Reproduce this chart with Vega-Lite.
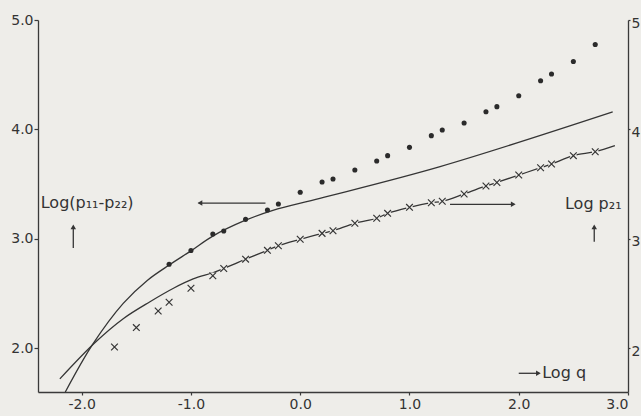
{
  "$schema": "https://vega.github.io/schema/vega-lite/v6.json",
  "width": 590,
  "height": 372,
  "autosize": {"type": "none"},
  "padding": {"left": 38, "top": 20, "right": 13, "bottom": 24},
  "background": "#eeede9",
  "config": {
    "view": {"stroke": null},
    "axis": {
      "grid": false,
      "title": null,
      "domainColor": "#3a3a3a",
      "domainWidth": 1.3,
      "tickColor": "#3a3a3a",
      "tickWidth": 1.2,
      "labelColor": "#333333",
      "labelFont": "DejaVu Sans",
      "labelFontSize": 14
    }
  },
  "datasets": {
    "dots": [
      {"logq": -1.2, "v": 2.767}, {"logq": -1.0, "v": 2.893}, {"logq": -0.8, "v": 3.044},
      {"logq": -0.7, "v": 3.071}, {"logq": -0.5, "v": 3.178}, {"logq": -0.3, "v": 3.263},
      {"logq": -0.2, "v": 3.318}, {"logq": 0.0, "v": 3.425}, {"logq": 0.2, "v": 3.519},
      {"logq": 0.3, "v": 3.547}, {"logq": 0.5, "v": 3.629}, {"logq": 0.7, "v": 3.711},
      {"logq": 0.8, "v": 3.76}, {"logq": 1.0, "v": 3.836}, {"logq": 1.2, "v": 3.943},
      {"logq": 1.3, "v": 3.995}, {"logq": 1.5, "v": 4.059}, {"logq": 1.7, "v": 4.162},
      {"logq": 1.8, "v": 4.208}, {"logq": 2.0, "v": 4.308}, {"logq": 2.2, "v": 4.445},
      {"logq": 2.3, "v": 4.506}, {"logq": 2.5, "v": 4.621}, {"logq": 2.7, "v": 4.776}
    ],
    "crosses": [
      {"logq": -1.7, "v": 2.011}, {"logq": -1.5, "v": 2.189}, {"logq": -1.3, "v": 2.34},
      {"logq": -1.2, "v": 2.42}, {"logq": -1.0, "v": 2.548}, {"logq": -0.8, "v": 2.663},
      {"logq": -0.7, "v": 2.729}, {"logq": -0.5, "v": 2.814}, {"logq": -0.3, "v": 2.895},
      {"logq": -0.2, "v": 2.937}, {"logq": 0.0, "v": 2.996}, {"logq": 0.2, "v": 3.05},
      {"logq": 0.3, "v": 3.074}, {"logq": 0.5, "v": 3.142}, {"logq": 0.7, "v": 3.188},
      {"logq": 0.8, "v": 3.233}, {"logq": 1.0, "v": 3.288}, {"logq": 1.2, "v": 3.33},
      {"logq": 1.3, "v": 3.343}, {"logq": 1.5, "v": 3.41}, {"logq": 1.7, "v": 3.483},
      {"logq": 1.8, "v": 3.515}, {"logq": 2.0, "v": 3.583}, {"logq": 2.2, "v": 3.65},
      {"logq": 2.3, "v": 3.684}, {"logq": 2.5, "v": 3.76}, {"logq": 2.7, "v": 3.796}
    ],
    "curveA": [
      {"logq": -2.15, "v": 1.6}, {"logq": -1.9, "v": 2.035}, {"logq": -1.62, "v": 2.41},
      {"logq": -1.4, "v": 2.62}, {"logq": -1.19, "v": 2.767}, {"logq": -1.0, "v": 2.89},
      {"logq": -0.8, "v": 3.025}, {"logq": -0.5, "v": 3.17}, {"logq": -0.25, "v": 3.26},
      {"logq": 0.18, "v": 3.37}, {"logq": 1.28, "v": 3.66}, {"logq": 2.86, "v": 4.16}
    ],
    "curveB": [
      {"logq": -2.2, "v": 1.72}, {"logq": -1.88, "v": 2.05}, {"logq": -1.62, "v": 2.27},
      {"logq": -1.375, "v": 2.425}, {"logq": -1.16, "v": 2.548}, {"logq": -0.98, "v": 2.633},
      {"logq": -0.8, "v": 2.69}, {"logq": -0.7, "v": 2.729}, {"logq": -0.5, "v": 2.814},
      {"logq": -0.3, "v": 2.895}, {"logq": -0.2, "v": 2.937}, {"logq": 0.0, "v": 2.996},
      {"logq": 0.2, "v": 3.05}, {"logq": 0.3, "v": 3.074}, {"logq": 0.5, "v": 3.142},
      {"logq": 0.7, "v": 3.188}, {"logq": 0.8, "v": 3.233}, {"logq": 1.0, "v": 3.288},
      {"logq": 1.2, "v": 3.33}, {"logq": 1.3, "v": 3.343}, {"logq": 1.5, "v": 3.41},
      {"logq": 1.7, "v": 3.483}, {"logq": 1.8, "v": 3.515}, {"logq": 2.0, "v": 3.583},
      {"logq": 2.2, "v": 3.65}, {"logq": 2.3, "v": 3.684}, {"logq": 2.5, "v": 3.76},
      {"logq": 2.7, "v": 3.796}, {"logq": 2.88, "v": 3.851}
    ],
    "arrows": [
      {"x": -0.93, "x2": -0.318, "y": 3.327, "y2": 3.327},
      {"x": 1.371, "x2": 1.95, "y": 3.315, "y2": 3.315},
      {"x": -2.077, "x2": -2.077, "y": 3.11, "y2": 2.916},
      {"x": 2.691, "x2": 2.691, "y": 3.11, "y2": 2.974},
      {"x": 2.0, "x2": 2.18, "y": 1.771, "y2": 1.771}
    ],
    "heads": [
      {"x": -0.918, "y": 3.327, "dir": "left"},
      {"x": 1.95, "y": 3.315, "dir": "right"},
      {"x": -2.077, "y": 3.11, "dir": "up"},
      {"x": 2.691, "y": 3.11, "dir": "up"},
      {"x": 2.18, "y": 1.771, "dir": "right"}
    ],
    "labels": [
      {"x": -2.375, "y": 3.327, "label": "Log(p₁₁-p₂₂)"},
      {"x": 2.423, "y": 3.318, "label": "Log p₂₁"},
      {"x": 2.215, "y": 1.774, "label": "Log q"}
    ]
  },
  "layer": [
    {
      "data": {"name": "curveA"},
      "mark": {"type": "line", "interpolate": "catmull-rom", "color": "#353535", "strokeWidth": 1.3},
      "encoding": {
        "x": {
          "field": "logq", "type": "quantitative",
          "scale": {"domain": [-2.4, 3.0], "nice": false, "zero": false},
          "axis": {
            "values": [-2, -1, 0, 1, 2, 3],
            "labelExpr": "replace(format(datum.value, '.1f'), '−', '-')",
            "tickSize": 3, "labelPadding": 2
          }
        },
        "y": {
          "field": "v", "type": "quantitative",
          "scale": {"domain": [1.6, 5.0], "nice": false, "zero": false},
          "axis": {"values": [2, 3, 4, 5], "format": ".1f", "tickSize": 4, "labelPadding": 1}
        }
      }
    },
    {
      "data": {"name": "curveB"},
      "mark": {"type": "line", "interpolate": "catmull-rom", "color": "#353535", "strokeWidth": 1.3},
      "encoding": {
        "x": {"field": "logq", "type": "quantitative"},
        "y": {"field": "v", "type": "quantitative", "axis": null}
      }
    },
    {
      "data": {"name": "crosses"},
      "mark": {"type": "point", "shape": "circle", "filled": true, "color": "#eeede9", "opacity": 1, "size": 44},
      "encoding": {
        "x": {"field": "logq", "type": "quantitative"},
        "y": {"field": "v", "type": "quantitative", "axis": null}
      }
    },
    {
      "data": {"name": "crosses"},
      "mark": {"type": "point", "shape": "M-1,-1L1,1M-1,1L1,-1", "filled": false, "color": "#353535", "opacity": 1, "strokeWidth": 1.2, "size": 45},
      "encoding": {
        "x": {"field": "logq", "type": "quantitative"},
        "y": {"field": "v", "type": "quantitative", "axis": null}
      }
    },
    {
      "data": {"name": "dots"},
      "mark": {"type": "point", "shape": "circle", "filled": true, "color": "#2b2b2b", "opacity": 1, "size": 26},
      "encoding": {
        "x": {"field": "logq", "type": "quantitative"},
        "y": {
          "field": "v", "type": "quantitative",
          "axis": {"orient": "right", "values": [2, 3, 4, 5], "format": ".1f", "tickSize": 2, "labelPadding": 1, "labelOffset": 3}
        }
      }
    },
    {
      "data": {"name": "arrows"},
      "mark": {"type": "rule", "color": "#353535", "strokeWidth": 1.3},
      "encoding": {
        "x": {"field": "x", "type": "quantitative"},
        "x2": {"field": "x2"},
        "y": {"field": "y", "type": "quantitative", "axis": null},
        "y2": {"field": "y2"}
      }
    },
    {
      "data": {"name": "heads"},
      "mark": {"type": "point", "filled": true, "color": "#353535", "opacity": 1, "size": 30},
      "encoding": {
        "x": {"field": "x", "type": "quantitative"},
        "y": {"field": "y", "type": "quantitative", "axis": null},
        "shape": {
          "field": "dir", "type": "nominal",
          "scale": {"domain": ["left", "right", "up"], "range": ["triangle-left", "triangle-right", "triangle-up"]},
          "legend": null
        }
      }
    },
    {
      "data": {"name": "labels"},
      "mark": {"type": "text", "align": "left", "baseline": "middle", "font": "DejaVu Sans", "fontSize": 16, "color": "#333333"},
      "encoding": {
        "x": {"field": "x", "type": "quantitative"},
        "y": {"field": "y", "type": "quantitative", "axis": null},
        "text": {"field": "label"}
      }
    }
  ],
  "resolve": {"axis": {"y": "independent"}}
}
